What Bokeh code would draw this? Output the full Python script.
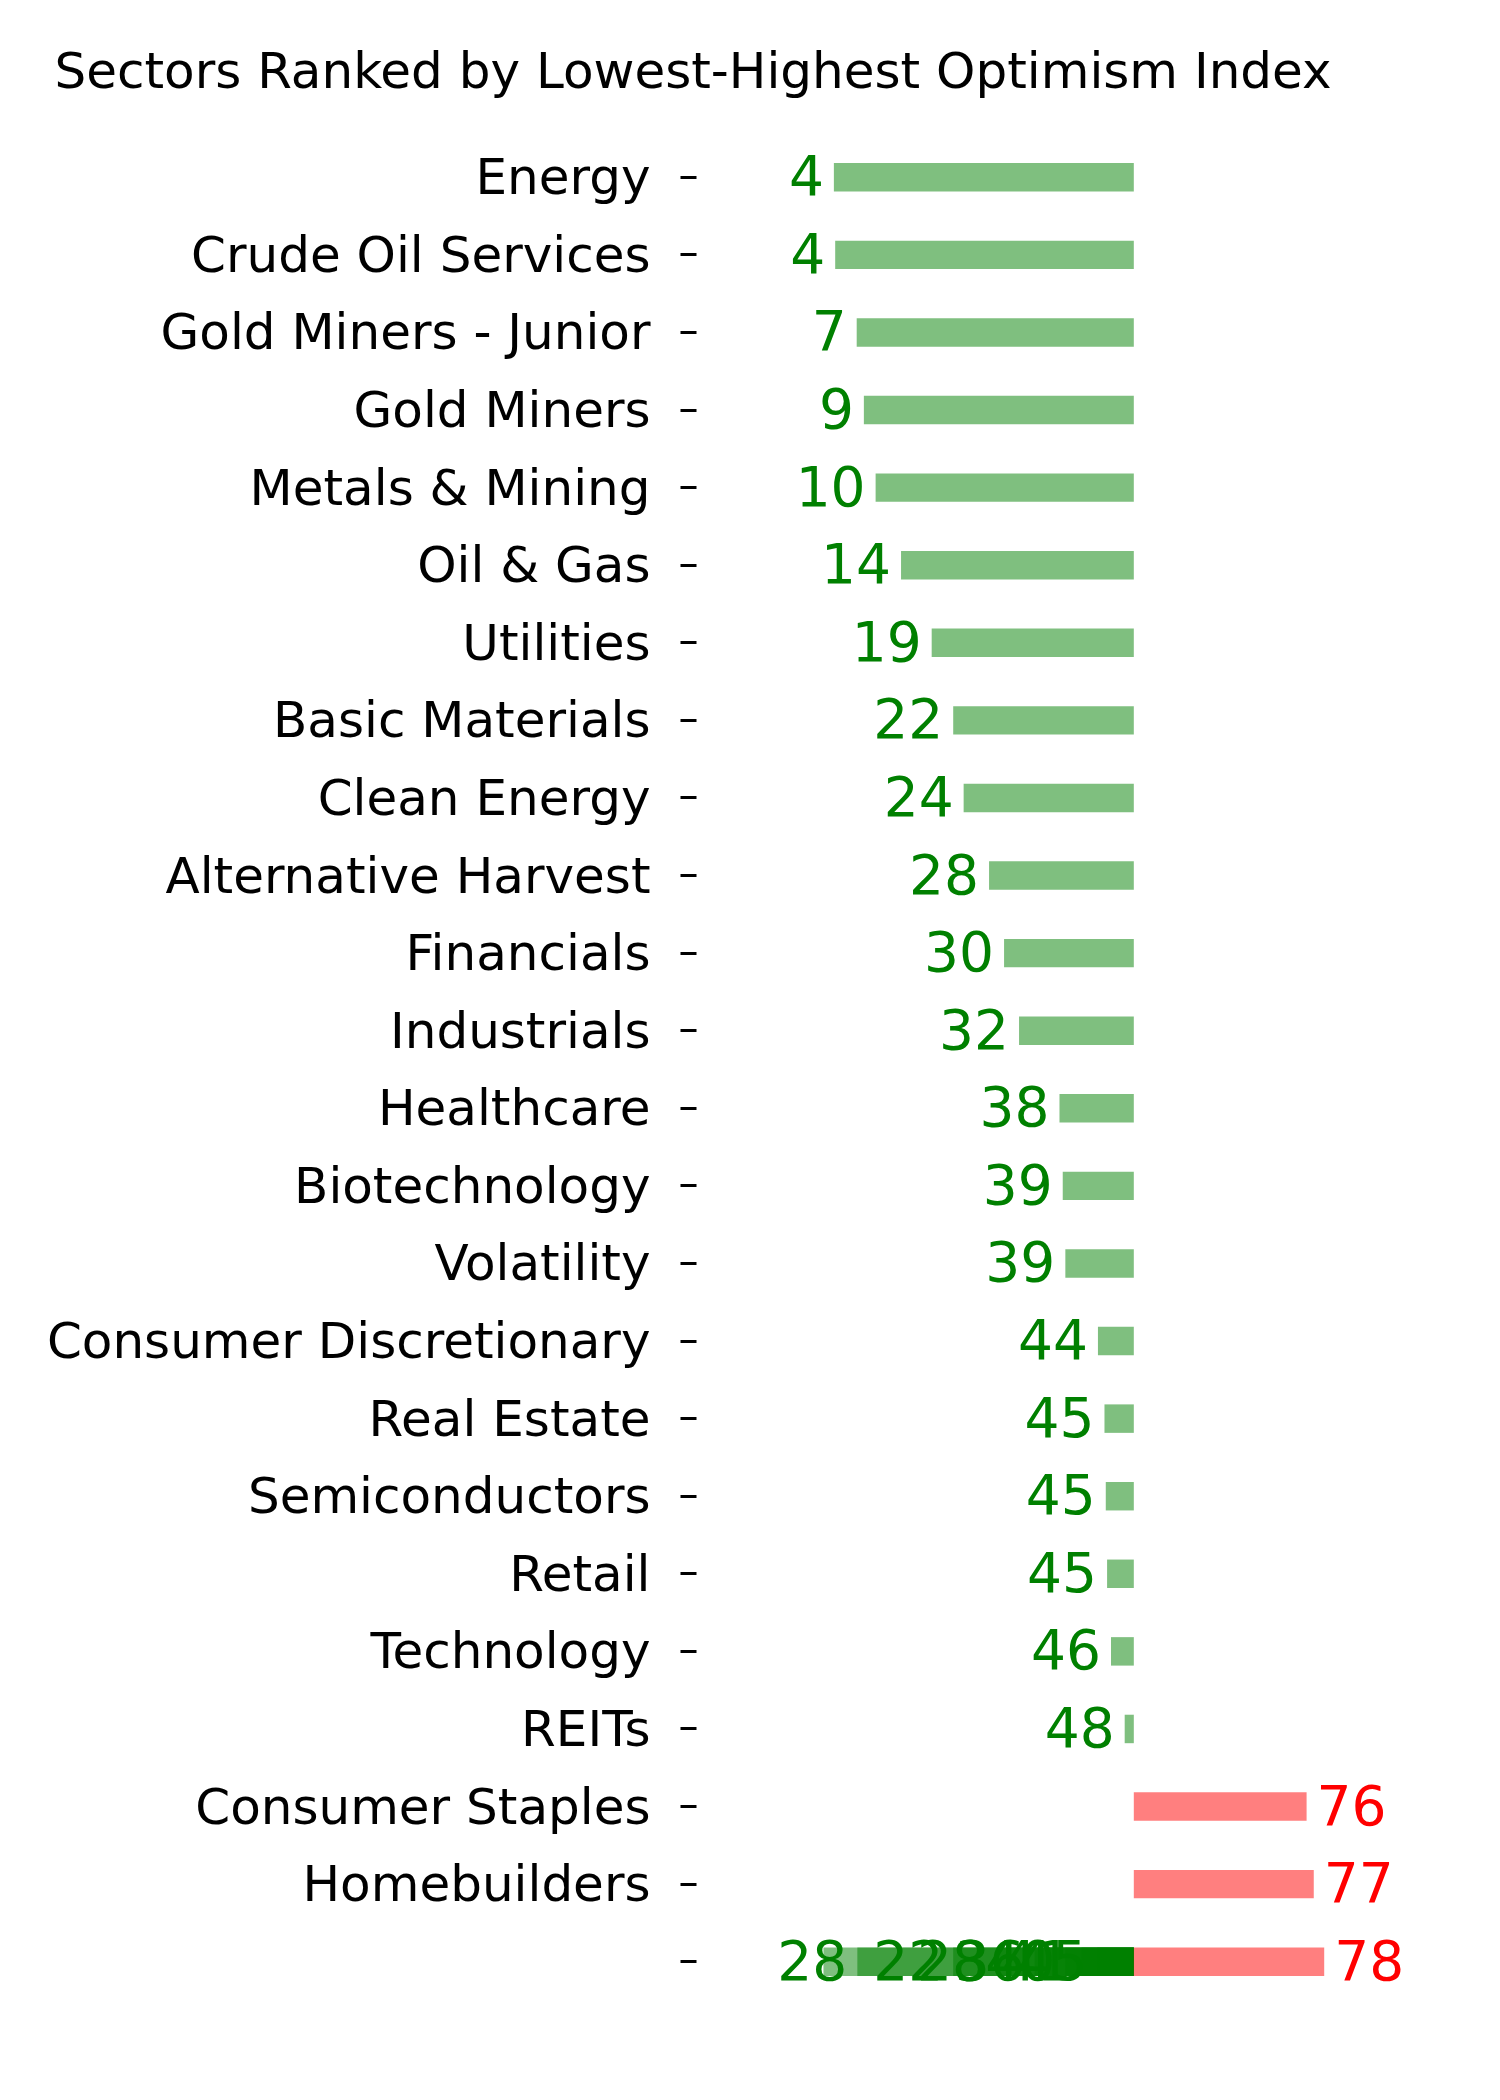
from bokeh.plotting import figure
from bokeh.models import ColumnDataSource, FactorRange, Range1d
from bokeh.core.properties import value
from bokeh.embed import file_html
from bokeh.resources import INLINE

TITLE = "Sectors Ranked by Lowest-Highest Optimism Index"
NEUTRAL = 50

sectors = ["Energy", "Crude Oil Services", "Gold Miners - Junior", "Gold Miners",
           "Metals & Mining", "Oil & Gas", "Utilities", "Basic Materials",
           "Clean Energy", "Alternative Harvest", "Financials", "Industrials",
           "Healthcare", "Biotechnology", "Volatility", "Consumer Discretionary",
           "Real Estate", "Semiconductors", "Retail", "Technology", "REITs",
           "Consumer Staples", "Homebuilders"]
values = [4.0, 4.2, 7.5, 8.6, 10.4, 14.3, 19.0, 22.3, 23.9, 27.8, 30.1, 32.4,
          38.6, 39.1, 39.5, 44.5, 45.5, 45.7, 45.9, 46.5, 48.6, 76.5, 77.6]
labels = ["4", "4", "7", "9", "10", "14", "19", "22", "24", "28", "30", "32",
          "38", "39", "39", "44", "45", "45", "45", "46", "48", "76", "77"]

# unnamed bottom row (several overlapping entries)
blank_cat = " "
blank_values = [2.4, 7.6, 22.3, 29.0, 34.8, 39.5, 42.0, 44.4, 79.2]
blank_labels = ["", "28", "22", "28", "36", "40", "41", "45", "78"]

all_cats = sectors + [blank_cat] * len(blank_values)
all_vals = values + blank_values
all_labs = labels + blank_labels

g = dict(y=[], left=[], right=[], x=[], label=[])
r = dict(y=[], left=[], right=[], x=[], label=[])
for c, v, l in zip(all_cats, all_vals, all_labs):
    d = g if v < NEUTRAL else r
    d["y"].append(c)
    d["left"].append(min(v, NEUTRAL))
    d["right"].append(max(v, NEUTRAL))
    d["x"].append(v)
    d["label"].append(l)

factors = [blank_cat] + list(reversed(sectors))

p = figure(width=1500, height=2080, y_range=FactorRange(*factors),
           x_range=Range1d(-17.07, 98.57), x_axis_location=None,
           toolbar_location=None, output_backend="svg",
           min_border_left=696, min_border_right=50, min_border_top=138,
           min_border_bottom=80)

gs = ColumnDataSource(g)
rs = ColumnDataSource(r)
p.hbar(y="y", left="left", right="right", height=0.367, source=gs,
       fill_color="green", fill_alpha=0.5, line_color=None)
p.hbar(y="y", left="left", right="right", height=0.367, source=rs,
       fill_color="red", fill_alpha=0.5, line_color=None)
p.text(x="x", y="y", text="label", source=gs, text_font=value("DejaVu Sans"),
       text_font_size=value("55px"), text_color="green", text_align="right",
       text_baseline="middle", x_offset=-10, y_offset=-2)
p.text(x="x", y="y", text="label", source=rs, text_font=value("DejaVu Sans"),
       text_font_size=value("55px"), text_color="red", text_align="left",
       text_baseline="middle", x_offset=10, y_offset=-2)

p.title.text = TITLE
p.title.text_font = "DejaVu Sans"
p.title.text_font_size = "50px"
p.title.text_font_style = "normal"
p.title.text_color = "black"
p.title.align = "left"
p.title.offset = -642
p.title.standoff = 77

ax = p.yaxis[0]
ax.axis_line_color = None
ax.major_tick_in = 0
ax.major_tick_out = 16
ax.major_tick_line_width = 3
ax.major_tick_line_color = "black"
ax.minor_tick_line_color = None
ax.major_label_standoff = 30
ax.major_label_text_font = "DejaVu Sans"
ax.major_label_text_font_size = "50px"
ax.major_label_text_color = "black"

p.xgrid.visible = False
p.ygrid.visible = False
p.outline_line_color = None

open("out.html", "w").write(file_html(p, INLINE))
